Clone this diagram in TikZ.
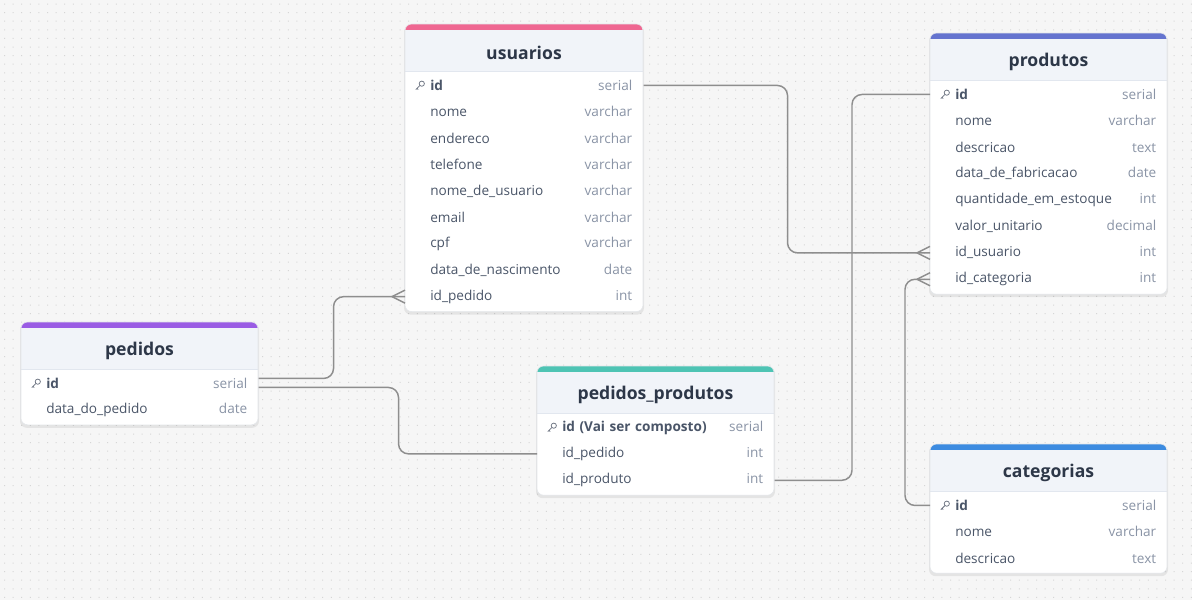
\documentclass[tikz,border=0pt]{standalone}
\usepackage{fontspec}
\setmainfont{Open Sans}
\usetikzlibrary{calc}
\definecolor{bgc}{HTML}{F6F6F6}
\definecolor{dotc}{HTML}{D6D6D6}
\definecolor{connc}{HTML}{8E8E8E}
\definecolor{headc}{HTML}{F1F4F9}
\definecolor{sepc}{HTML}{E2E7EF}
\definecolor{borderc}{HTML}{E3E6EA}
\definecolor{titlec}{HTML}{2D3748}
\definecolor{rowc}{HTML}{4A5568}
\definecolor{typec}{HTML}{8A94A6}
\definecolor{keyc}{HTML}{6B7280}
\definecolor{cusu}{HTML}{EF6791}
\definecolor{cpro}{HTML}{6574CF}
\definecolor{cped}{HTML}{9A5CE4}
\definecolor{cpp}{HTML}{4EC4B4}
\definecolor{ccat}{HTML}{3C8BE0}
\tikzset{
  conn/.style={draw=connc, line width=1.1pt, rounded corners=7.5pt},
  crowline/.style={draw=connc, line width=1.1pt},
  rowbox/.style={inner sep=0pt, minimum height=19.8pt, anchor=north west,
    font=\fontsize{10.2}{12}\selectfont, text=rowc},
  titlebox/.style={inner sep=0pt, font=\fontsize{13.2}{15}\selectfont\bfseries, text=titlec},
}
\newcommand\ertable[7]{%
  \pgfmathsetmacro\tbot{#3+50+#5*26.4}
  \fill[black, opacity=0.07, rounded corners=5pt] (#2-1,#3+1) rectangle (#2+#4+1,\tbot+3);
  \fill[white, rounded corners=5pt] (#2,#3) rectangle (#2+#4,\tbot);
  \begin{scope}
    \clip[rounded corners=5pt] (#2,#3) rectangle (#2+#4,\tbot);
    \fill[#6] (#2,#3) rectangle (#2+#4,#3+6);
    \fill[headc] (#2,#3+6) rectangle (#2+#4,#3+47);
  \end{scope}
  \draw[sepc, line width=0.7pt] (#2,#3+47) -- (#2+#4,#3+47);
  \draw[borderc, line width=0.4pt, rounded corners=5pt] (#2,#3) rectangle (#2+#4,\tbot);
  \node[titlebox] (#1) at (#2+#4/2,#3+28.5) {#7};
}
\newcommand\errow[7]{%
  \pgfmathsetlengthmacro\rowtw{#4*0.75pt}
  \node[rowbox, text width=\rowtw] (#1) at (#2,#3+48+#5*26.4)
    {\noindent\hspace*{18.75pt}#6\hfill\textcolor{typec}{#7}\hspace*{8.25pt}};
}
\newcommand\keyicon[1]{%
  \begin{scope}[shift={($(#1.west)+(15,0)$)}]
    \draw[keyc, line width=0.55pt] (1.8,-1.8) circle (2.6);
    \draw[keyc, line width=0.55pt] (-0.1,0.1) -- (-4.2,4.2) (-3,3) -- (-1.8,4.2);
  \end{scope}
}
\newcommand\crow[1]{%
  \draw[crowline] ($(#1)+(-13,0)$) -- ($(#1)+(0,-6.5)$)
                  ($(#1)+(-13,0)$) -- ($(#1)+(0,6.5)$);
}
\begin{document}
\begin{tikzpicture}[x=0.75pt, y=-0.75pt]
\useasboundingbox (0,0) rectangle (1192,600);
\fill[bgc] (0,0) rectangle (1192,600);
\foreach \j in {0,...,69} {
  \fill[dotc] \foreach \i in {0,...,138} { (\i*8.6+4,\j*8.6+3.5) rectangle ++(1,1) };
}

% tables
\ertable{usuarios}{405}{24}{238}{9}{cusu}{usuarios}
\errow{u1}{405}{24}{238}{0}{\textbf{id}}{serial}
\errow{u2}{405}{24}{238}{1}{nome}{varchar}
\errow{u3}{405}{24}{238}{2}{endereco}{varchar}
\errow{u4}{405}{24}{238}{3}{telefone}{varchar}
\errow{u5}{405}{24}{238}{4}{nome\_de\_usuario}{varchar}
\errow{u6}{405}{24}{238}{5}{email}{varchar}
\errow{u7}{405}{24}{238}{6}{cpf}{varchar}
\errow{u8}{405}{24}{238}{7}{data\_de\_nascimento}{date}
\errow{u9}{405}{24}{238}{8}{id\_pedido}{int}
\keyicon{u1}

\ertable{produtos}{930}{33}{237}{8}{cpro}{produtos}
\errow{pr1}{930}{33}{237}{0}{\textbf{id}}{serial}
\errow{pr2}{930}{33}{237}{1}{nome}{varchar}
\errow{pr3}{930}{33}{237}{2}{descricao}{text}
\errow{pr4}{930}{33}{237}{3}{data\_de\_fabricacao}{date}
\errow{pr5}{930}{33}{237}{4}{quantidade\_em\_estoque}{int}
\errow{pr6}{930}{33}{237}{5}{valor\_unitario}{decimal}
\errow{pr7}{930}{33}{237}{6}{id\_usuario}{int}
\errow{pr8}{930}{33}{237}{7}{id\_categoria}{int}
\keyicon{pr1}

\ertable{pedidos}{21}{322}{237}{2}{cped}{pedidos}
\errow{pd1}{21}{322}{237}{0}{\textbf{id}}{serial}
\errow{pd2}{21}{322}{237}{1}{data\_do\_pedido}{date}
\keyicon{pd1}

\ertable{pedprod}{537}{366}{237}{3}{cpp}{pedidos\_produtos}
\errow{pp1}{537}{366}{237}{0}{\textbf{id (Vai ser composto)}}{serial}
\errow{pp2}{537}{366}{237}{1}{id\_pedido}{int}
\errow{pp3}{537}{366}{237}{2}{id\_produto}{int}
\keyicon{pp1}

\ertable{categorias}{930}{444}{237}{3}{ccat}{categorias}
\errow{ca1}{930}{444}{237}{0}{\textbf{id}}{serial}
\errow{ca2}{930}{444}{237}{1}{nome}{varchar}
\errow{ca3}{930}{444}{237}{2}{descricao}{text}
\keyicon{ca1}

% connectors
\draw[conn] (u1.east) -- ++(144,0) |- (pr7.west);
\crow{pr7.west}
\draw[conn] (pr1.west) -- ++(-78,0) |- (pp3.east);
\draw[conn] (ca1.west) -- ++(-25,0) |- (pr8.west);
\crow{pr8.west}
\draw[conn] ($(pd1.east)+(0,-5)$) -- ++(75,0) |- (u9.west);
\crow{u9.west}
\draw[conn] ($(pd1.east)+(0,4)$) -- ++(140,0) |- (pp2.west);
\end{tikzpicture}
\end{document}
